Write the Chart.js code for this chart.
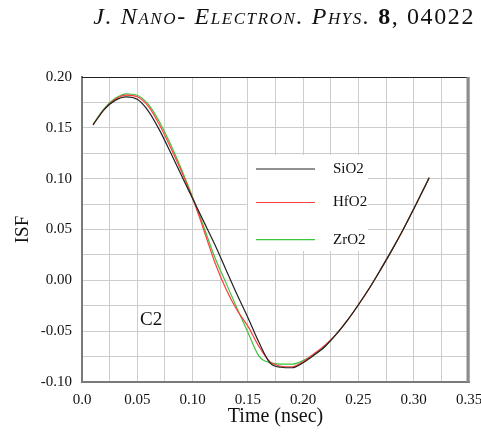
<!DOCTYPE html>
<html>
<head>
<meta charset="utf-8">
<script src="https://cdn.jsdelivr.net/npm/chart.js@4/dist/chart.umd.min.js"></script>
<style>
  html, body { margin: 0; padding: 0; background: #fff; }
  #wrap { position: relative; width: 481px; height: 439px; }
  #hdr {
    position: absolute; right: 6px; top: 3px;
    font-family: "Liberation Serif", "DejaVu Serif", serif;
    font-size: 24px; letter-spacing: 1.6px; color: #111; white-space: nowrap;
  }
  #hdr i { font-variant: small-caps; }
  canvas { position: absolute; left: 0; top: 0; }
</style>
</head>
<body>
<div id="wrap">
  <canvas id="c" width="481" height="439"></canvas>
  <div id="hdr"><i>J. Nano- Electron. Phys.</i> <b>8</b>, 04022</div>
</div>
<script>
// time axis (nsec)
const timeNs = [0.01, 0.02, 0.03, 0.04, 0.05, 0.06, 0.07, 0.08, 0.09, 0.10, 0.11, 0.12, 0.13, 0.14, 0.15, 0.16,
  0.17, 0.18, 0.19, 0.20, 0.21, 0.22, 0.23, 0.24, 0.25, 0.26, 0.27, 0.28, 0.29, 0.30, 0.31, 0.314];

// ISF values
const sio2 = [0.153, 0.168, 0.177, 0.1805, 0.178, 0.1665, 0.148, 0.126, 0.103, 0.0805, 0.058, 0.0355, 0.011, -0.0135, -0.0365, -0.061,
  -0.0812, -0.0855, -0.086, -0.081, -0.0735, -0.0648, -0.053, -0.0394, -0.024, -0.0075, 0.0105, 0.0292, 0.049, 0.0702, 0.092, 0.101];
const hfo2 = [0.153, 0.168, 0.178, 0.1822, 0.1805, 0.171, 0.153, 0.131, 0.107, 0.081, 0.050, 0.018, -0.008, -0.029, -0.045, -0.065,
  -0.080, -0.0845, -0.085, -0.080, -0.072, -0.0635, -0.053, -0.0394, -0.024, -0.0075, 0.0105, 0.0292, 0.049, 0.0702, 0.092, 0.101];
const zro2 = [0.1535, 0.169, 0.179, 0.1835, 0.182, 0.173, 0.156, 0.134, 0.109, 0.082, 0.053, 0.023, -0.002, -0.027, -0.051, -0.0745,
  -0.081, -0.0825, -0.0825, -0.079, -0.073, -0.0648, -0.053, -0.0394, -0.024, -0.0075, 0.0105, 0.0292, 0.049, 0.0702, 0.092, 0.101];

const seriesNames = ['SiO2', 'HfO2', 'ZrO2'];
const seriesColors = ['#222222', '#ff3b3b', '#3cc43c'];
const panelLabel = 'C2';
const panelLabelAt = [0.0625, -0.039];

const serif = '"Liberation Serif", "DejaVu Serif", serif';

const toPoints = (vals) => vals.map((v, i) => ({ x: timeNs[i], y: v }));

// frame: black top, grey right
const framePlugin = {
  id: 'frame',
  afterDatasetsDraw(chart) {
    const { ctx, chartArea: a } = chart;
    ctx.save();
    ctx.strokeStyle = '#222';
    ctx.lineWidth = 1;
    ctx.beginPath();
    ctx.moveTo(a.left, a.top + 0.5);
    ctx.lineTo(a.right, a.top + 0.5);
    ctx.stroke();
    ctx.strokeStyle = '#8c8c8c';
    ctx.lineWidth = 3;
    ctx.beginPath();
    ctx.moveTo(a.right - 1, a.top);
    ctx.lineTo(a.right - 1, a.bottom);
    ctx.stroke();
    ctx.restore();
  }
};

// legend inside the plot + panel label
const insideLegend = {
  id: 'insideLegend',
  afterDraw(chart) {
    const { ctx, chartArea: a, scales } = chart;
    ctx.save();
    const bx = a.left + 166, by = a.top + 78;
    ctx.fillStyle = '#fff';
    ctx.fillRect(bx, by, 120, 96);
    const rows = [92, 125.5, 162.7];
    ctx.font = '15px ' + serif;
    ctx.textBaseline = 'middle';
    seriesNames.forEach((name, i) => {
      const y = a.top + rows[i];
      ctx.strokeStyle = seriesColors[i];
      ctx.lineWidth = 1.2;
      ctx.beginPath();
      ctx.moveTo(a.left + 174, y);
      ctx.lineTo(a.left + 233, y);
      ctx.stroke();
      ctx.fillStyle = '#111';
      ctx.fillText(name, a.left + 251, y);
    });
    ctx.font = '19px ' + serif;
    ctx.textAlign = 'center';
    ctx.fillText(panelLabel, scales.x.getPixelForValue(panelLabelAt[0]), scales.y.getPixelForValue(panelLabelAt[1]));
    ctx.restore();
  }
};

const fmtX = (v) => {
  const r = Math.round(v * 1000) / 1000;
  if (Math.abs(r) < 1e-9) return '0.0';
  return r.toFixed(2);
};
const fmtY = (v) => {
  const r = Math.round(v * 1000) / 1000;
  return (Math.abs(r) < 1e-9 ? 0 : r).toFixed(2);
};

new Chart(document.getElementById('c').getContext('2d'), {
  type: 'line',
  data: {
    datasets: [
      { label: seriesNames[0], data: toPoints(sio2), borderColor: seriesColors[0] },
      { label: seriesNames[1], data: toPoints(hfo2), borderColor: seriesColors[1] },
      { label: seriesNames[2], data: toPoints(zro2), borderColor: seriesColors[2] }
    ].map((d) => ({ ...d, borderWidth: 1.2, pointRadius: 0, fill: false, cubicInterpolationMode: 'monotone' }))
  },
  options: {
    responsive: false,
    animation: false,
    layout: { padding: { top: 77, right: 12, left: 0, bottom: 0 } },
    plugins: { legend: { display: false }, tooltip: { enabled: false } },
    scales: {
      x: {
        type: 'linear',
        min: 0,
        max: 0.35,
        grid: { color: '#cdcdcd', drawTicks: false },
        border: { color: '#7a7a7a', width: 2 },
        ticks: {
          stepSize: 0.025,
          padding: 9,
          maxRotation: 0,
          autoSkip: false,
          color: '#111',
          font: { family: serif, size: 15 },
          callback: (v, i) => (i % 2 === 0 ? fmtX(v) : '')
        },
        title: { display: true, text: 'Time (nsec)', color: '#111', font: { family: serif, size: 20 }, padding: { top: 0, bottom: 10 } },
        afterFit: (s) => { s.height = 57; s.paddingLeft = 0; s.paddingRight = 0; }
      },
      y: {
        min: -0.1,
        max: 0.2,
        grid: { color: '#cdcdcd', drawTicks: false },
        border: { color: '#7a7a7a', width: 2 },
        ticks: {
          stepSize: 0.025,
          padding: 10,
          autoSkip: false,
          color: '#111',
          font: { family: serif, size: 15 },
          callback: (v, i) => (i % 2 === 0 ? fmtY(v) : '')
        },
        title: { display: true, text: 'ISF', color: '#111', font: { family: serif, size: 19 }, padding: { bottom: 0, top: 12 } },
        afterFit: (s) => { s.width = 82; }
      }
    }
  },
  plugins: [framePlugin, insideLegend]
});
</script>
</body>
</html>
